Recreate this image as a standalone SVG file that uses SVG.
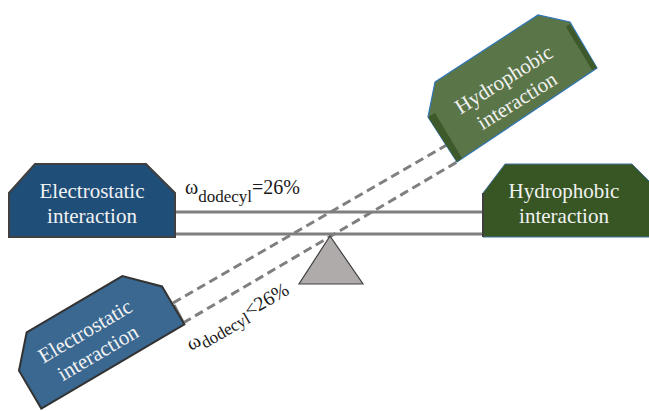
<svg xmlns="http://www.w3.org/2000/svg" width="649" height="411" viewBox="0 0 649 411">
<style>
text{font-family:"Liberation Serif","Times New Roman","DejaVu Serif",serif}
.beam{stroke:#7f7f7f;stroke-width:3;fill:none}
.dash{stroke:#7f7f7f;stroke-width:3;fill:none;stroke-dasharray:9 5}
.lbl{font-size:21px;fill:#f2f2f2;text-anchor:middle}
.eq{font-size:20px;fill:#1a1a1a}
</style>
<defs>
<polygon id="box" points="-57,-36.5 54,-36.5 83,-7.5 83,36.5 -83,36.5 -83,-7.5"/>
</defs>
<g id="connectors">
<line class="beam" x1="175" y1="212" x2="483" y2="212"/>
<line class="beam" x1="175" y1="234" x2="483" y2="234"/>
<line class="dash" x1="173" y1="303" x2="450" y2="143"/>
<line class="dash" x1="183" y1="323" x2="457" y2="162"/>
<line class="beam" x1="174" y1="305" x2="183" y2="322"/>
</g>
<g id="fulcrum">
<polygon points="330,236 299,284 363,284" fill="#afabab" stroke="#404040" stroke-width="1.2"/>
</g>
<g id="electrostatic-level">
<use href="#box" transform="translate(92,200.5)" fill="#1f4e79" stroke="#404040" stroke-width="2"/>
<text class="lbl" x="92" y="198">Electrostatic</text>
<text class="lbl" x="92" y="223">interaction</text>
</g>
<g id="hydrophobic-level">
<polygon points="483,193 505,164 632,164 655,187 655,237 483,237" fill="#375623" stroke="#41719c" stroke-width="1"/>
<line x1="483" y1="193" x2="483" y2="237" stroke="#404040" stroke-width="2"/>
<text class="lbl" x="564" y="198">Hydrophobic</text>
<text class="lbl" x="564" y="223">interaction</text>
</g>
<g id="electrostatic-tilted">
<use href="#box" transform="translate(94.3,335) rotate(-30.5)" fill="#3a6891" stroke="#333333" stroke-width="2"/>
<g transform="translate(94.3,335) rotate(-30.5)">
<text class="lbl" x="-6" y="-1">Electrostatic</text>
<text class="lbl" x="-6" y="24">interaction</text>
</g>
</g>
<g id="hydrophobic-tilted">
<polygon points="435,82 538,15 570,22 597,68 457,162 428,117" fill="#5a7648" stroke="#2e75b6" stroke-width="1.2"/>
<polygon points="428,117 435,113 462,158 457,162" fill="#3e5a2a"/>
<polygon points="566,27 570,24 597,68 592,70" fill="#3e5a2a"/>
<g transform="translate(509,88) rotate(-32)">
<text class="lbl" x="0" y="-3">Hydrophobic</text>
<text class="lbl" x="0" y="22">interaction</text>
</g>
</g>
<g id="labels">
<text class="eq" x="185" y="194">ω<tspan font-size="17" dy="8">dodecyl</tspan><tspan dy="-8">=26%</tspan></text>
<text class="eq" transform="translate(191,351) rotate(-30)" x="0" y="0">ω<tspan font-size="17" dy="5">dodecyl</tspan><tspan dy="-5">&lt;26%</tspan></text>
</g>
</svg>
